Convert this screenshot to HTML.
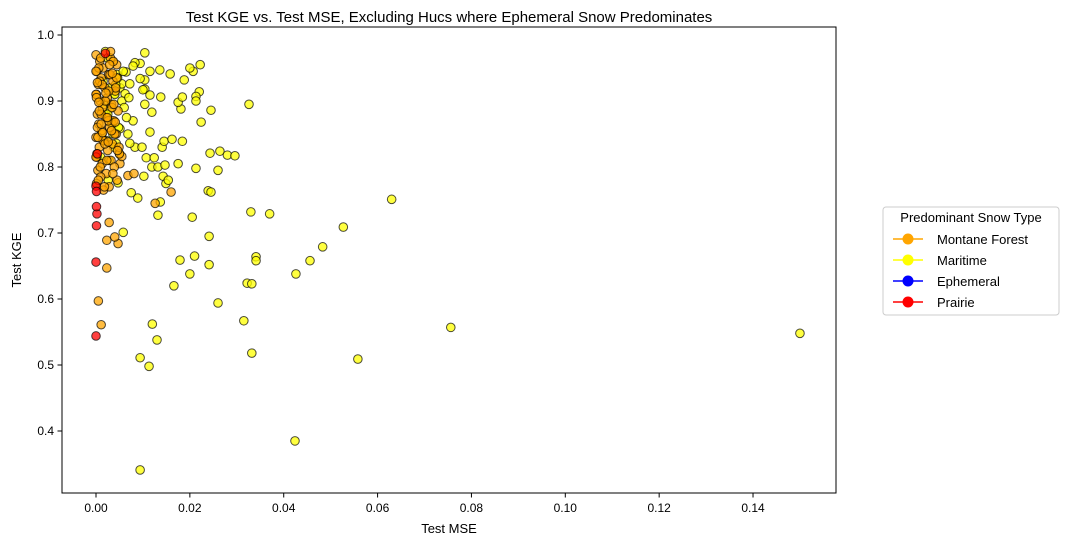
<!DOCTYPE html>
<html><head><meta charset="utf-8"><style>
body{margin:0;background:#fff;font-family:"Liberation Sans",sans-serif;}
svg text{font-family:"Liberation Sans",sans-serif;fill:#000;}
</style></head><body>
<svg id="chart" width="1070" height="545" viewBox="0 0 1070 545" xmlns="http://www.w3.org/2000/svg">
<text x="449" y="22" font-size="15" text-anchor="middle">Test KGE vs. Test MSE, Excluding Hucs where Ephemeral Snow Predominates</text>
<g id="points"></g>
<rect x="62" y="27" width="774" height="466" fill="none" stroke="#000" stroke-width="1"/>
<g id="axes"></g>
<text x="449" y="533" font-size="13" text-anchor="middle">Test MSE</text>
<text transform="translate(21,260) rotate(-90)" font-size="13" text-anchor="middle">Test KGE</text>
<g>
<rect x="883" y="207" width="176" height="108" rx="3" fill="#fff" stroke="#ccc"/>
<text x="971" y="222" font-size="13" text-anchor="middle">Predominant Snow Type</text>
<g><line x1="893" y1="239" x2="923" y2="239" stroke="#ffa500" stroke-width="1.5"/><circle cx="908" cy="239" r="5.5" fill="#ffa500"/><text x="937" y="244" font-size="13">Montane Forest</text></g>
<g><line x1="893" y1="260" x2="923" y2="260" stroke="#ffff00" stroke-width="1.5"/><circle cx="908" cy="260" r="5.5" fill="#ffff00"/><text x="937" y="265" font-size="13">Maritime</text></g>
<g><line x1="893" y1="281" x2="923" y2="281" stroke="#0000ff" stroke-width="1.5"/><circle cx="908" cy="281" r="5.5" fill="#0000ff"/><text x="937" y="286" font-size="13">Ephemeral</text></g>
<g><line x1="893" y1="302" x2="923" y2="302" stroke="#ff0000" stroke-width="1.5"/><circle cx="908" cy="302" r="5.5" fill="#ff0000"/><text x="937" y="307" font-size="13">Prairie</text></g>
</g>
</svg>
<script>
const xTicks=[0.00,0.02,0.04,0.06,0.08,0.10,0.12,0.14];
const yTicks=[0.4,0.5,0.6,0.7,0.8,0.9,1.0];
const maritimeMSE=[0.150,0.0756,0.063,0.0558,0.0527,0.0483,0.0456,0.0426,0.0424,0.0094,0.0326,0.0330,0.0370,0.0341,0.0341,0.0322,0.0332,0.0315,0.0332,0.026,0.0241,0.0241,0.0239,0.0245,0.020,0.021,0.0179,0.0166,0.0205,0.012,0.013,0.0094,0.0113,0.0132,0.0137,0.0143,0.0089,0.0075,0.0047,0.0058,0.026,0.0213,0.0243,0.0264,0.028,0.0296,0.0224,0.0245,0.0207,0.0220,0.0213,0.0181,0.0175,0.0184,0.0188,0.0158,0.0136,0.0115,0.0104,0.0104,0.0115,0.0104,0.0119,0.0138,0.0100,0.0083,0.0141,0.0145,0.0098,0.0107,0.0124,0.0119,0.0072,0.0175,0.0132,0.0147,0.0149,0.0154,0.0184,0.0162,0.0102,0.0115,0.0068,0.0036,0.0051,0.0043,0.0021,0.0030,0.0051,0.0062,0.0079,0.0055,0.0094,0.0104,0.0083,0.0064,0.0040,0.0200,0.0213,0.0094,0.0072,0.0079,0.0222,0.0020,0.0025,0.0035,0.0045,0.0015,0.0030,0.0040,0.0055,0.0060,0.0025,0.0032,0.0048,0.0012,0.0022,0.0038,0.0050,0.0028,0.0018,0.0042,0.0058,0.0034,0.0010,0.0065,0.0070,0.0046,0.0026];
const maritimeKGE=[0.548,0.557,0.751,0.509,0.709,0.679,0.658,0.638,0.385,0.341,0.895,0.732,0.729,0.664,0.658,0.624,0.623,0.567,0.518,0.594,0.652,0.695,0.764,0.762,0.638,0.665,0.659,0.620,0.724,0.562,0.538,0.511,0.498,0.727,0.747,0.786,0.753,0.761,0.776,0.701,0.795,0.798,0.821,0.824,0.818,0.817,0.868,0.886,0.945,0.914,0.907,0.888,0.898,0.906,0.932,0.941,0.947,0.945,0.932,0.918,0.909,0.895,0.883,0.906,0.917,0.830,0.830,0.839,0.830,0.814,0.814,0.800,0.836,0.805,0.800,0.803,0.775,0.780,0.839,0.842,0.786,0.853,0.850,0.850,0.858,0.836,0.880,0.889,0.920,0.911,0.870,0.926,0.957,0.973,0.958,0.944,0.911,0.950,0.900,0.934,0.926,0.953,0.955,0.975,0.965,0.960,0.940,0.930,0.920,0.910,0.900,0.890,0.880,0.870,0.860,0.850,0.840,0.830,0.820,0.810,0.895,0.925,0.945,0.865,0.815,0.875,0.905,0.935,0.780,0.790];
const montaneMSE=[0.0023,0.0047,0.0023,0.0040,0.0126,0.0160,0.0068,0.0081,0.0051,0.0055,0.0005,0.0011,0.0028,
0.0000,0.0031,0.0008,0.0044,0.0015,0.0002,0.0027,0.0011,0.0036,0.0005,0.0019,0.0041,0.0001,0.0024,0.0009,0.0033,0.0014,0.0047,0.0003,0.0021,0.0038,0.0006,0.0029,0.0012,0.0043,0.0000,0.0017,0.0035,0.0007,0.0025,0.0050,0.0002,0.0032,0.0013,0.0039,0.0004,0.0022,0.0010,0.0045,0.0001,0.0028,0.0016,0.0037,0.0006,0.0030,0.0008,0.0042,0.0000,0.0020,0.0034,0.0011,0.0026,0.0003,0.0040,0.0015,0.0049,0.0002,0.0023,0.0009,0.0036,0.0005,0.0018,0.0031,0.0000,0.0044,0.0013,0.0027,0.0001,0.0038,0.0007,0.0024,0.0011,0.0033,0.0004,0.0019,0.0046,0.0000,0.0029,0.0010,0.0035,0.0003,0.0021,0.0006,0.0041,0.0014,0.0026];
const montaneKGE=[0.647,0.684,0.689,0.694,0.745,0.762,0.787,0.790,0.805,0.816,0.597,0.561,0.716,
0.970,0.965,0.960,0.955,0.950,0.945,0.940,0.935,0.930,0.925,0.920,0.915,0.910,0.905,0.900,0.895,0.890,0.885,0.880,0.875,0.870,0.865,0.860,0.855,0.850,0.845,0.840,0.835,0.830,0.825,0.820,0.815,0.810,0.805,0.800,0.795,0.790,0.785,0.780,0.775,0.770,0.765,0.960,0.950,0.940,0.930,0.920,0.910,0.900,0.890,0.880,0.870,0.860,0.850,0.840,0.830,0.820,0.810,0.800,0.790,0.780,0.770,0.975,0.945,0.935,0.925,0.915,0.905,0.895,0.885,0.875,0.865,0.855,0.845,0.835,0.825,0.815,0.955,0.965,0.942,0.928,0.912,0.898,0.868,0.852,0.838,0.822];
const prairieMSE=[0.0000,0.0001,0.0002,0.0001,0.0000,0.0000,0.0001,0.0003,0.0020];
const prairieKGE=[0.771,0.763,0.729,0.711,0.656,0.544,0.740,0.820,0.972];
const ephemeralMSE=[];const ephemeralKGE=[];

const X=v=>96+v/0.02*93.86;
const Y=v=>35+(1.0-v)*660;
const NS="http://www.w3.org/2000/svg";
const ax=document.getElementById('axes');
xTicks.forEach(t=>{
  const l=document.createElementNS(NS,'line');
  
  
  l.setAttribute('x1',X(t));l.setAttribute('x2',X(t));l.setAttribute('y1',493);l.setAttribute('y2',497.5);l.setAttribute('stroke','#000');ax.appendChild(l);
  const tx=document.createElementNS(NS,'text');
  
  
  tx.setAttribute('x',X(t));tx.setAttribute('y',512);tx.setAttribute('font-size','12');tx.setAttribute('text-anchor','middle');tx.textContent=t.toFixed(2);ax.appendChild(tx);
});
yTicks.forEach(t=>{
  const l=document.createElementNS(NS,'line');
  
  
  l.setAttribute('x1',57.5);l.setAttribute('x2',62);l.setAttribute('y1',Y(t));l.setAttribute('y2',Y(t));l.setAttribute('stroke','#000');ax.appendChild(l);
  const tx=document.createElementNS(NS,'text');
  
  
  tx.setAttribute('x',54);tx.setAttribute('y',Y(t)+4);tx.setAttribute('font-size','12');tx.setAttribute('text-anchor','end');tx.textContent=t.toFixed(1);ax.appendChild(tx);
});
const pg=document.getElementById('points');
function draw(xs,ys,color,name){
  xs.forEach((v,i)=>{
    const c=document.createElementNS(NS,'circle');
    
    
    c.setAttribute('cx',X(v));c.setAttribute('cy',Y(ys[i]));c.setAttribute('r',4.3);
    c.setAttribute('fill',color);c.setAttribute('fill-opacity','0.75');
    c.setAttribute('stroke','#000');c.setAttribute('stroke-opacity','0.7');c.setAttribute('stroke-width','1');
    pg.appendChild(c);
  });
}
draw(maritimeMSE,maritimeKGE,'#ffff00','maritime-point');
draw(ephemeralMSE,ephemeralKGE,'#0000ff','ephemeral-point');
draw(montaneMSE,montaneKGE,'#ffa500','montane-forest-point');
draw(prairieMSE,prairieKGE,'#ff0000','prairie-point');
</script>
</body></html>
